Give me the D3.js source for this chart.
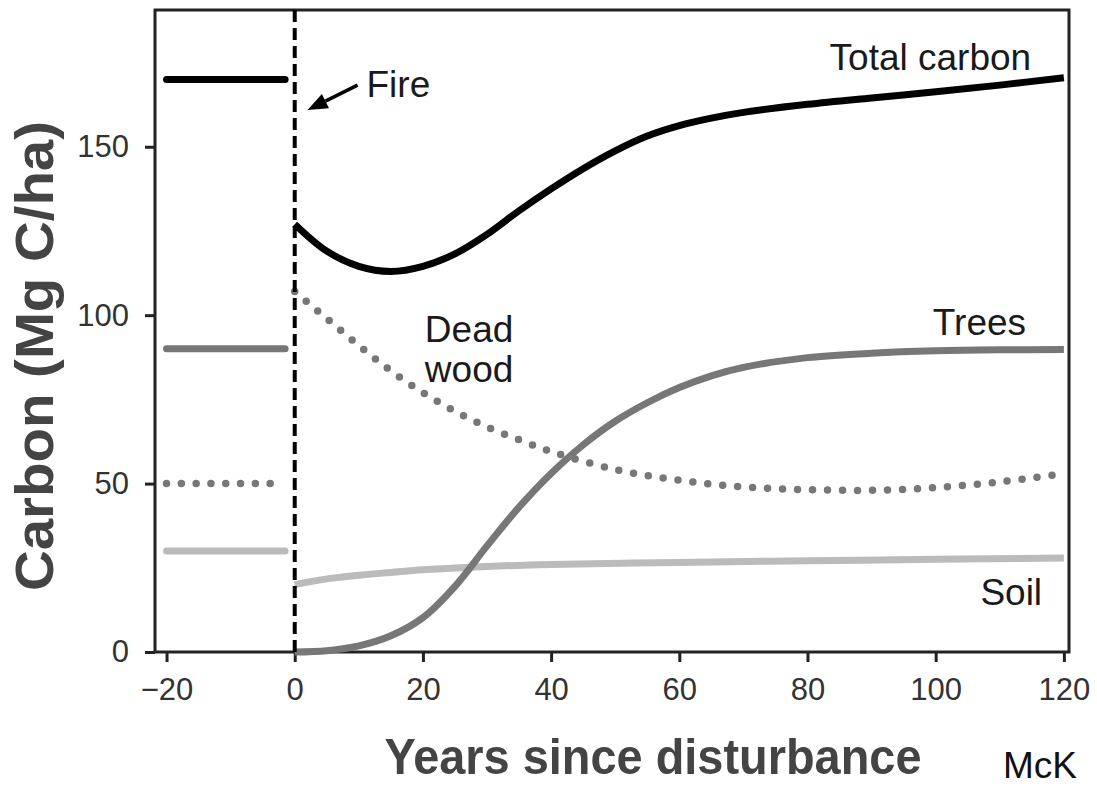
<!DOCTYPE html>
<html>
<head>
<meta charset="utf-8">
<title>Carbon after fire</title>
<style>
body { margin:0; background:#fff; }
svg { display:block; font-family:"Liberation Sans", Arial, Helvetica, sans-serif; }
</style>
<script src="https://d3js.org/d3.v7.min.js"></script>
</head>
<body>
<div id="chart"></div>
<script>
var width = 1097, height = 786;
var pLeft = 155, pRight = 1069, pTop = 10, pBottom = 652;

// data (years since disturbance, Mg C/ha)
var xTicks = [-20, 0, 20, 40, 60, 80, 100, 120];
var yTicks = [0, 50, 100, 150];
var preYears = [-20, -1.5];
var preTotal = 170, preTrees = 90, preDead = 50, preSoil = 30;

var totalPts = [[0,127],[5,119],[10,114.5],[15,113],[20,114.5],[25,118.2],[30,124],[35,131],[40,137.5],[45,143.5],[50,148.8],[55,153.2],[60,156.3],[65,158.5],[70,160.2],[80,162.6],[90,164.5],[100,166.3],[110,168.3],[120,170.5]];
var treesPts = [[0,0],[5,0.4],[10,1.8],[15,4.8],[20,10.2],[25,19.5],[30,31.5],[35,43],[40,53],[45,61.5],[50,68.5],[55,74],[60,78.5],[65,82],[70,84.5],[80,87.4],[90,88.7],[100,89.4],[110,89.7],[120,89.8]];
var deadPts = [[0,107],[5,99],[10,91],[15,83.5],[20,77],[25,71.5],[30,66.8],[35,63],[40,59.5],[50,54.2],[60,51],[70,49],[80,48.2],[90,48],[100,48.8],[110,50.5],[120,53]];
var soilPts = [[0,20],[5,21.7],[10,22.8],[15,23.6],[20,24.4],[30,25.4],[40,26],[60,26.6],[80,27.1],[100,27.5],[120,27.9]];

var svg = d3.select("#chart").append("svg")
    .attr("width", width)
    .attr("height", height);

var x = d3.scaleLinear().domain([-21.8, 120.8]).range([pLeft, pRight]);
var y = d3.scaleLinear().domain([0, 190.6]).range([pBottom, pTop]);

var line = d3.line()
    .x(function(d){ return x(d[0]); })
    .y(function(d){ return y(d[1]); })
    .curve(d3.curveCatmullRom.alpha(0.5));

// axes
var xAxis = svg.append("g")
    .attr("transform", "translate(0," + pBottom + ")")
    .call(d3.axisBottom(x).tickValues(xTicks).tickSize(10).tickPadding(16));
var yAxis = svg.append("g")
    .attr("transform", "translate(" + pLeft + ",0)")
    .call(d3.axisLeft(y).tickValues(yTicks).tickSize(10).tickPadding(16));

[xAxis, yAxis].forEach(function(g){
  g.select(".domain").remove();
  g.selectAll(".tick line").attr("stroke", "#222").attr("stroke-width", 3);
  g.selectAll(".tick text")
    .attr("font-size", 31)
    .attr("fill", "#333")
    .style("font-family", "Liberation Sans, Arial, sans-serif");
});

// frame
svg.append("rect")
    .attr("x", pLeft).attr("y", pTop)
    .attr("width", pRight - pLeft).attr("height", pBottom - pTop)
    .attr("fill", "none")
    .attr("stroke", "#222")
    .attr("stroke-width", 3);

// pre-fire levels
function pre(v){ return preYears.map(function(t){ return [t, v]; }); }

svg.append("path").datum(pre(preTotal)).attr("d", line)
    .attr("fill", "none").attr("stroke", "#000").attr("stroke-width", 7).attr("stroke-linecap", "round");
svg.append("path").datum(pre(preTrees)).attr("d", line)
    .attr("fill", "none").attr("stroke", "#777").attr("stroke-width", 7).attr("stroke-linecap", "round");
svg.append("path").datum([[preYears[0], preDead], [-3, preDead]]).attr("d", line)
    .attr("fill", "none").attr("stroke", "#777").attr("stroke-width", 7.5)
    .attr("stroke-linecap", "round").attr("stroke-dasharray", "0,14.8");
svg.append("path").datum(pre(preSoil)).attr("d", line)
    .attr("fill", "none").attr("stroke", "#bbb").attr("stroke-width", 7).attr("stroke-linecap", "round");

// post-fire curves
svg.append("path").datum(soilPts).attr("d", line)
    .attr("fill", "none").attr("stroke", "#bbb").attr("stroke-width", 7);
svg.append("path").datum(deadPts).attr("d", line)
    .attr("fill", "none").attr("stroke", "#777").attr("stroke-width", 7.5)
    .attr("stroke-linecap", "round").attr("stroke-dasharray", "0,15");
svg.append("path").datum(treesPts).attr("d", line)
    .attr("fill", "none").attr("stroke", "#777").attr("stroke-width", 7);
svg.append("path").datum(totalPts).attr("d", line)
    .attr("fill", "none").attr("stroke", "#000").attr("stroke-width", 7);

// fire line
svg.append("line")
    .attr("x1", x(0)).attr("x2", x(0))
    .attr("y1", pTop).attr("y2", pBottom)
    .attr("stroke", "#000").attr("stroke-width", 4)
    .attr("stroke-dasharray", "12,6");

// arrow: shaft plus a filled head
var ax1 = x(9.8), ay1 = y(168.3), ax2 = x(2.0), ay2 = y(160.9);
var ang = Math.atan2(ay2 - ay1, ax2 - ax1);
var hl = 20, hw = 8;
var bx = ax2 - hl * Math.cos(ang), by = ay2 - hl * Math.sin(ang);
svg.append("line")
    .attr("x1", ax1).attr("y1", ay1)
    .attr("x2", bx).attr("y2", by)
    .attr("stroke", "#000").attr("stroke-width", 3.5);
svg.append("path")
    .attr("d", "M" + ax2 + "," + ay2 +
         "L" + (bx + hw * Math.sin(ang)) + "," + (by - hw * Math.cos(ang)) +
         "L" + (bx - hw * Math.sin(ang)) + "," + (by + hw * Math.cos(ang)) + "Z")
    .attr("fill", "#000");

// labels
function label(t, xv, yv, anchor){
  svg.append("text")
    .attr("x", x(xv)).attr("y", y(yv))
    .attr("text-anchor", anchor)
    .attr("font-size", 37)
    .attr("fill", "#1a1a1a")
    .text(t);
}
label("Fire", 11.2, 164.7, "start");
label("Total carbon", 114.9, 172.7, "end");
label("Trees", 114.1, 94.1, "end");
label("Dead", 20.3, 92, "start");
label("wood", 20.3, 80.1, "start");
label("Soil", 116.6, 13.9, "end");

// axis titles
svg.append("text")
    .attr("transform", "translate(53,356) rotate(-90)")
    .attr("text-anchor", "middle")
    .attr("font-size", 54)
    .attr("font-weight", "bold")
    .attr("fill", "#444")
    .attr("textLength", 470)
    .attr("lengthAdjust", "spacingAndGlyphs")
    .text("Carbon (Mg C/ha)");

svg.append("text")
    .attr("x", 653).attr("y", 774)
    .attr("text-anchor", "middle")
    .attr("font-size", 50)
    .attr("font-weight", "bold")
    .attr("fill", "#444")
    .attr("textLength", 537)
    .attr("lengthAdjust", "spacingAndGlyphs")
    .text("Years since disturbance");

svg.append("text")
    .attr("x", 1003).attr("y", 778)
    .attr("font-size", 37)
    .attr("fill", "#111")
    .text("McK");
</script>
</body>
</html>
